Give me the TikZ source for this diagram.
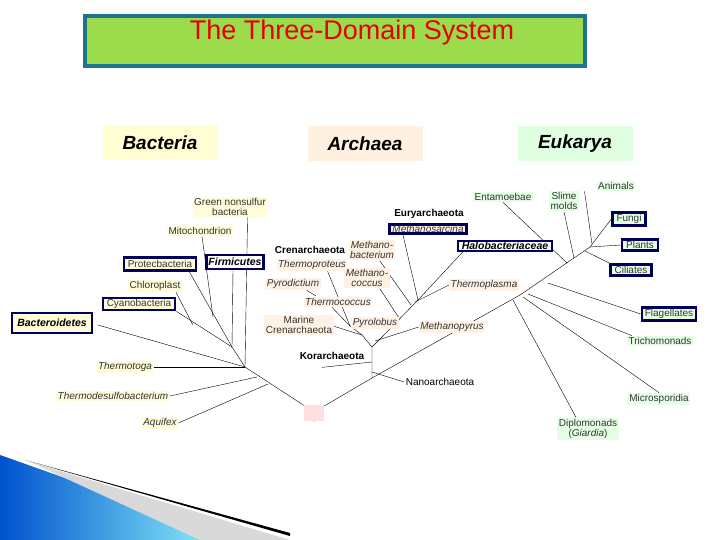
\documentclass[tikz,border=0pt]{standalone}
\usepackage{fontspec}
\setmainfont{Liberation Sans}
\usetikzlibrary{backgrounds}
\definecolor{tealb}{RGB}{31,115,140}
\begin{document}
\begin{tikzpicture}[x=1pt,y=-1pt,
 lab/.style={inner sep=1.5pt,font=\fontsize{10}{10.5}\selectfont,align=center,text=black!80},
 bac/.style={lab,fill=yellow!15},
 arc/.style={lab,fill=orange!10},
 euk/.style={lab,fill=green!10},
 itl/.style={font=\fontsize{10}{10.5}\selectfont\itshape},
 plain/.style={lab,text=black},
 hl/.style={draw=blue!35!black,line width=2.4pt,inner xsep=4pt,inner ysep=3pt},
 br/.style={line width=0.9pt},
 dom/.style={minimum width=115pt,minimum height=35pt,font=\fontsize{19}{19}\selectfont\bfseries\itshape}]
\useasboundingbox (0,0) rectangle (720,540);
% swoosh
\shade[left color=blue!60!cyan!80!black,right color=cyan!40] (0,455) -- (0,540) -- (240,540) -- cycle;
\fill[gray!30] (30,462) -- (290,540) -- (200,540) -- cycle;
\fill[black] (25,460) -- (290,533) -- (290,536) -- cycle;
% title
\node[draw=tealb,line width=4pt,fill=green!45!lime!60!olive!70,minimum width=500pt,minimum height=50pt] (title) at (335,41) {};
\node[text=red!90!black,font=\fontsize{27}{27}\selectfont] (tt) at (352,33) {The Three-Domain System};
% domains
\node[dom,fill=yellow!18] (dB) at (160,143) {Bacteria};
\node[dom,fill=orange!12] (dA) at (365,144) {Archaea};
\node[dom,fill=green!12] (dE) at (575,144) {Eukarya};
% root
\node[fill=red!12,minimum width=20pt,minimum height=16pt] (rootbox) at (314,413) {};
\coordinate (R0) at (314,412);
\coordinate (R1) at (314,422);
\coordinate (BA) at (245,367);
\coordinate (BH) at (232,347);
\coordinate (A1) at (372,378);
\coordinate (C0) at (372,347);
\coordinate (C1) at (362,335);
\coordinate (C2) at (350,326);
\coordinate (EH) at (418,300);
\coordinate (E0) at (520,295);
\coordinate (EC) at (590,247);
% bacteria labels
\node[bac] (gns) at (230,207) {Green nonsulfur\\bacteria};
\node[bac] (mito) at (200,231) {Mitochondrion};
\node[bac,hl] (prot) at (160,264) {Protecbacteria};
\node[lab,hl,fill=white,text=black,font=\fontsize{10.5}{11}\selectfont\bfseries\itshape,inner xsep=2pt] (firm) at (235,262) {Firmicutes};
\node[bac] (chl) at (155,286) {Chloroplast};
\node[bac,hl,inner ysep=1.5pt] (cyan) at (139,304) {Cyanobacteria};
\node[bac,hl,text=black,font=\fontsize{10.5}{11}\selectfont\bfseries\itshape,inner xsep=5pt,inner ysep=6pt] (bcd) at (52,323) {Bacteroidetes};
\node[bac,itl] (tmt) at (125,367) {Thermotoga};
\node[bac,itl] (tds) at (113,396) {Thermodesulfobacterium};
\node[bac,itl] (aqu) at (160,423) {Aquifex};
% archaea labels
\node[plain,font=\fontsize{10}{10.5}\selectfont\bfseries] (cren) at (310,250) {Crenarchaeota};
\node[arc,itl] (tpr) at (312,265) {Thermoproteus};
\node[arc,itl] (pyd) at (293,284) {Pyrodictium};
\node[arc,itl] (tcc) at (338,302) {Thermococcus};
\node[arc] (mar) at (299,325) {Marine\\Crenarchaeota};
\node[plain,font=\fontsize{10}{10.5}\selectfont\bfseries] (kor) at (332,356) {Korarchaeota};
\node[plain] (nan) at (440,382) {Nanoarchaeota};
\node[arc,itl] (mbac) at (372,250) {Methano-\\bacterium};
\node[arc,itl] (mcoc) at (367,278) {Methano-\\coccus};
\node[arc,itl] (pyl) at (375,323) {Pyrolobus};
\node[arc,itl] (mpy) at (452,327) {Methanopyrus};
\node[plain,font=\fontsize{10}{10.5}\selectfont\bfseries] (eury) at (429,214) {Euryarchaeota};
\node[arc,itl,hl,inner ysep=1pt,inner xsep=3pt] (msar) at (428,229) {Methanosarcina};
\node[lab,hl,fill=white,text=black,font=\fontsize{10.5}{11}\selectfont\bfseries\itshape,inner ysep=1pt] (halo) at (505,246) {Halobacteriaceae};
\node[arc,itl] (tpl) at (484,285) {Thermoplasma};
% eukarya labels
\node[euk] (ent) at (503,197) {Entamoebae};
\node[euk] (slm) at (564,201) {Slime\\molds};
\node[euk] (ani) at (616,186) {Animals};
\node[euk,hl,inner ysep=2pt] (fun) at (629,219) {Fungi};
\node[euk,hl,inner ysep=2pt] (pla) at (640,245) {Plants};
\node[euk,hl,inner ysep=2pt] (cil) at (631,270) {Ciliates};
\node[euk,hl,inner ysep=2pt,inner xsep=3pt] (fla) at (669,314) {Flagellates};
\node[euk] (tri) at (660,341) {Trichomonads};
\node[euk] (mic) at (659,399) {Microsporidia};
\node[euk] (dip) at (588,429) {Diplomonads\\(\textit{Giardia})};
% tree
\begin{scope}[on background layer,br]
\fill[white] (0,0) rectangle (720,540);
\draw (R1) -- (R0) -- (BA);
\draw (R0) -- (A1) -- (E0);
\draw (aqu.east) -- (268,384);
\draw (tds.east) -- (257,377);
\draw (tmt.east) -- (BA);
\draw (BA) -- (BH);
\draw (bcd.east) ++(5,2) -- (BA);
\draw (cyan.south east) -- (BH);
\draw (chl.south east) ++(-6,0) -- (193,325);
\draw (prot.south east) ++(-8,0) -- (BH);
\draw (mito.south) ++(2,0) -- (213,317);
\draw (firm.south) ++(-2,0) -- (BH);
\draw (gns.south east) ++(-20,0) -- (BA);
% archaea
\draw (A1) -- (C0) -- (C1);
\draw (nan.west) -- (372,372);
\draw (kor.south) ++(-10,6) -- (372,362);
\draw (mar.north east) ++(-6,10) -- (C1);
\draw (C2) -- (C1);
\draw (tcc.south) ++(-6,0) -- (C2);
\draw (tpr.south east) ++(-20,0) -- (C2);
\draw (pyd.south east) ++(-14,0) -- (316,296);
\draw (C0) -- (382,337) -- (EH);
\draw (mpy.west) -- (375,341);
\draw (pyl.north) ++(6,0) -- (381,317);
\draw (mcoc.south east) ++(-10,0) -- (399,318);
\draw (mbac.south east) ++(-16,0) -- (411,305);
\draw (msar.south) ++(-25,0) -- (EH);
\draw (halo.south west) ++(6,0) -- (EH);
\draw (tpl.west) -- (415,302);
% eukarya
\draw (E0) -- (EC);
\draw (dip.north) ++(-12,0) -- (513,300);
\draw (mic.north) -- (523,297);
\draw (tri.north west) ++(5,0) -- (528,294);
\draw (fla.west) -- (548,283);
\draw (ent.south) -- (567,263);
\draw (slm.south) -- (574,258);
\draw (ani.south west) ++(-12,0) -- (592,244);
\draw (fun.west) -- (EC);
\draw (pla.west) -- (EC);
\draw (cil.north west) -- (585,251);
\end{scope}
\end{tikzpicture}
\end{document}
